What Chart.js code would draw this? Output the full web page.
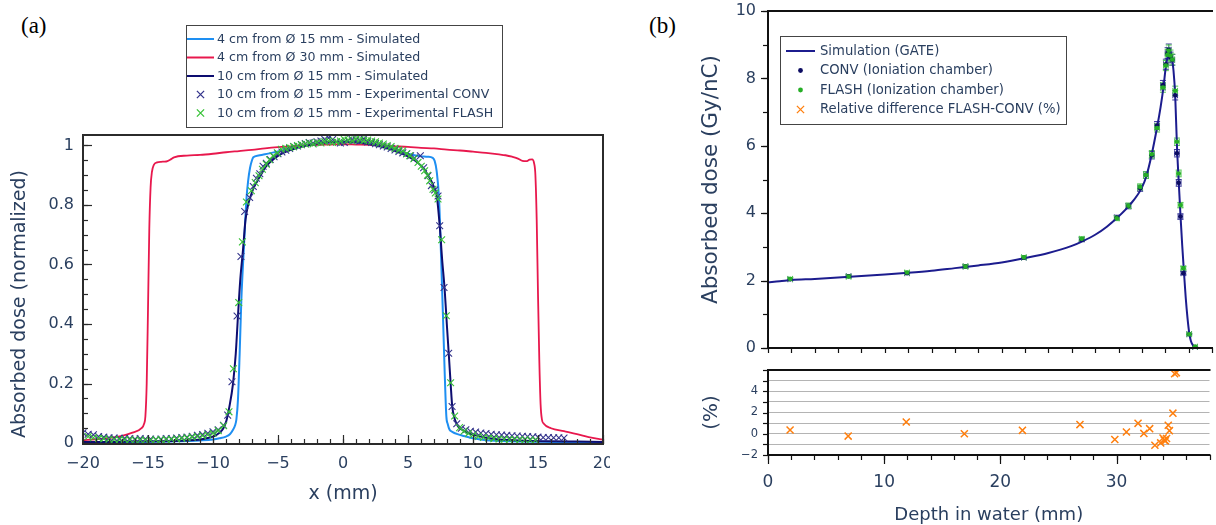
<!DOCTYPE html>
<html><head><meta charset="utf-8">
<script src="https://cdn.jsdelivr.net/npm/chart.js@4.4.1/dist/chart.umd.min.js"></script>
<style>
html,body{margin:0;padding:0;background:#fff;}
body{width:1216px;height:525px;position:relative;overflow:hidden;}
canvas{position:absolute;}
.lbl{position:absolute;font-family:"Liberation Serif","DejaVu Serif",serif;font-size:23px;color:#000;line-height:1;}
</style></head><body>
<div class="lbl" style="left:21px;top:14px">(a)</div>
<div class="lbl" style="left:649px;top:14px">(b)</div>
<canvas id="ca" width="610" height="525" style="left:0;top:0"></canvas>
<canvas id="cb1" width="576" height="360" style="left:640px;top:0"></canvas>
<canvas id="cb2" width="576" height="165" style="left:640px;top:360px"></canvas>
<script>
// ================= Panel (a) data =================
const seriesNamesA = ['4 cm from Ø 15 mm - Simulated','4 cm from Ø 30 mm - Simulated','10 cm from Ø 15 mm - Simulated','10 cm from Ø 15 mm - Experimental CONV','10 cm from Ø 15 mm - Experimental FLASH'];
const xTicksA = [-20,-15,-10,-5,0,5,10,15,20];
const xTickLabelsA = ['−20','−15','−10','−5','0','5','10','15','20'];
const yTicksA = [0,0.2,0.4,0.6,0.8,1];
const yTickLabelsA = ['0','0.2','0.4','0.6','0.8','1'];

const blueX = [-20,-16,-13,-11,-10,-9.5,-9.0,-8.7,-8.46,-8.3,-8.2,-8.08,-7.95,-7.82,-7.62,-7.43,-7.3,-7.15,-7.0,-6.9,-6.5,-6,-5.5,-5,-4,-3,-2,-1,0,1,2,3,4,5,5.5,6,6.5,6.9,7.05,7.2,7.39,7.55,7.69,7.82,7.95,8.05,8.2,8.4,8.8,9.2,10,11,13,16,20];
const blueY = [0.003,0.004,0.006,0.009,0.012,0.016,0.022,0.03,0.045,0.06,0.08,0.146,0.3,0.48,0.66,0.818,0.88,0.925,0.95,0.96,0.966,0.97,0.975,0.98,0.99,1.0,1.006,1.01,1.012,1.01,1.005,0.997,0.985,0.972,0.967,0.964,0.962,0.958,0.948,0.915,0.818,0.62,0.426,0.24,0.09,0.065,0.045,0.038,0.03,0.025,0.016,0.01,0.006,0.004,0.003];

const redX = [-20,-19,-18,-17,-16.2,-15.5,-15.3,-15.2,-15.1,-15.0,-14.9,-14.8,-14.7,-14.55,-14.3,-14.0,-13.6,-13.3,-13.0,-12,-11,-10,-9,-8,-7,-6,-5,-4,-3,-2,-1,0,1,2,3,4,5,6,7,8,9,10,11,12,12.5,13,13.5,13.8,14.1,14.35,14.55,14.7,14.8,14.9,15.0,15.1,15.2,15.3,15.45,16.0,17.0,18,18.9,20];
const redY = [0.01,0.013,0.017,0.024,0.035,0.05,0.065,0.09,0.2,0.45,0.72,0.86,0.91,0.935,0.943,0.945,0.946,0.952,0.96,0.966,0.968,0.972,0.977,0.981,0.985,0.99,0.994,0.997,1.0,1.002,1.003,1.004,1.003,1.002,0.999,0.997,0.995,0.992,0.99,0.986,0.983,0.979,0.975,0.97,0.967,0.962,0.955,0.948,0.947,0.952,0.953,0.94,0.9,0.75,0.5,0.28,0.13,0.08,0.065,0.05,0.04,0.03,0.02,0.012];

const navyX = [-20,-18,-16,-14,-12,-11,-10.5,-10,-9.5,-9.2,-8.97,-8.75,-8.46,-8.25,-8.08,-7.9,-7.69,-7.5,-7.3,-7.1,-6.9,-6.6,-6.3,-6,-5.5,-5,-4,-3,-2,-1,0,1,2,3,4,5,5.5,6,6.4,6.7,7.0,7.2,7.44,7.62,7.82,8.0,8.15,8.28,8.4,8.6,8.85,9.2,9.7,10.2,11,12,14,16,18,20];
const navyY = [0.004,0.004,0.005,0.006,0.009,0.012,0.016,0.022,0.035,0.05,0.075,0.12,0.2,0.3,0.426,0.55,0.65,0.75,0.8,0.83,0.855,0.88,0.902,0.925,0.948,0.965,0.985,0.998,1.006,1.011,1.012,1.011,1.005,0.995,0.982,0.963,0.95,0.932,0.91,0.888,0.86,0.835,0.73,0.62,0.516,0.39,0.29,0.2,0.124,0.08,0.056,0.044,0.033,0.026,0.018,0.012,0.008,0.006,0.005,0.004];

const convX = [-20.0,-19.6,-19.2,-18.8,-18.4,-18.0,-17.6,-17.2,-16.8,-16.4,-16.0,-15.6,-15.2,-14.8,-14.4,-14.0,-13.6,-13.2,-12.8,-12.4,-12.0,-11.6,-11.2,-10.8,-10.4,-10.0,-9.6,-9.2,-8.87,-8.54,-8.15,-7.85,-7.56,-7.18,-6.9,-6.66,-6.4,-6.15,-5.9,-5.6,-5.3,-5.0,-4.7,-4.4,-4.1,-3.8,-3.5,-3.2,-2.9,-2.6,-2.3,-2.0,-1.7,-1.4,-1.1,-0.8,-0.5,-0.2,0.1,0.4,0.7,1.0,1.3,1.6,1.9,2.2,2.5,2.8,3.1,3.4,3.7,4.0,4.3,4.6,4.9,5.2,5.5,5.95,6.2,6.54,6.8,7.05,7.31,7.44,7.77,8.13,8.39,8.75,9.1,9.45,9.8,10.2,10.6,11.0,11.4,11.8,12.2,12.6,13.0,13.4,13.8,14.2,14.6,15.0,15.4,15.8,16.2,16.6,17.0];
const convY = [0.035,0.03,0.028,0.022,0.02,0.018,0.017,0.016,0.016,0.015,0.014,0.015,0.014,0.014,0.013,0.014,0.015,0.015,0.017,0.019,0.02,0.023,0.026,0.029,0.033,0.038,0.045,0.06,0.094,0.206,0.427,0.627,0.778,0.825,0.862,0.89,0.905,0.93,0.94,0.953,0.962,0.972,0.978,0.984,0.99,0.996,0.998,1.003,1.006,1.01,1.008,1.012,1.015,1.02,1.025,1.02,1.012,1.008,1.01,1.016,1.02,1.018,1.015,1.022,1.012,1.01,1.006,1.002,0.998,0.995,0.99,0.985,0.98,0.975,0.972,0.965,0.958,0.965,0.925,0.898,0.865,0.85,0.83,0.73,0.523,0.302,0.123,0.065,0.05,0.045,0.04,0.037,0.034,0.032,0.03,0.028,0.027,0.026,0.025,0.024,0.023,0.022,0.021,0.02,0.019,0.019,0.018,0.018,0.017];

const flashX = [-19.6,-19.2,-18.8,-18.4,-18.0,-17.6,-17.2,-16.8,-16.4,-16.0,-15.6,-15.2,-14.8,-14.4,-14.0,-13.6,-13.2,-12.8,-12.4,-12.0,-11.6,-11.2,-10.8,-10.4,-10.0,-9.6,-9.18,-8.77,-8.43,-8.02,-7.74,-7.43,-7.05,-6.75,-6.46,-6.2,-5.9,-5.65,-5.38,-5.05,-4.74,-4.4,-4.1,-3.8,-3.5,-3.2,-2.9,-2.6,-2.3,-2.0,-1.7,-1.4,-1.1,-0.8,-0.5,-0.2,0.1,0.4,0.7,1.0,1.3,1.6,1.9,2.2,2.5,2.8,3.1,3.4,3.7,4.0,4.3,4.6,4.9,5.13,5.45,5.77,6.02,6.28,6.5,6.67,6.92,7.1,7.31,7.59,7.95,8.28,8.59,8.97,9.3,9.65,10.0,10.4,10.8,11.2,11.6,12.0,12.4,12.8,13.2,13.6,14.0,14.4,14.8];
const flashY = [0.022,0.018,0.016,0.015,0.013,0.012,0.012,0.011,0.011,0.01,0.01,0.01,0.01,0.011,0.011,0.012,0.013,0.014,0.016,0.018,0.02,0.022,0.025,0.028,0.033,0.042,0.058,0.105,0.25,0.472,0.676,0.81,0.848,0.875,0.898,0.92,0.937,0.952,0.965,0.975,0.987,0.99,0.993,0.996,1.0,1.002,1.005,1.008,1.005,1.01,1.008,1.012,1.015,1.01,1.012,1.015,1.02,1.018,1.015,1.022,1.02,1.016,1.018,1.015,1.012,1.008,1.005,1.0,0.996,0.99,0.985,0.982,0.972,0.965,0.955,0.943,0.93,0.915,0.9,0.881,0.853,0.84,0.82,0.683,0.428,0.203,0.091,0.052,0.04,0.032,0.027,0.022,0.019,0.017,0.015,0.014,0.013,0.012,0.012,0.011,0.011,0.01,0.01];

// ================= Panel (b) data =================
const seriesNamesB = ['Simulation (GATE)','CONV (Ioniation chamber)','FLASH (Ionization chamber)','Relative difference FLASH-CONV (%)'];
const xTicksB = [0,10,20,30];
const xTickLabelsB = ['0','10','20','30'];
const yTicksB1 = [0,2,4,6,8,10];
const yTickLabelsB1 = ['0','2','4','6','8','10'];
const yTicksB2 = [-2,-1,0,1,2,3,4,5,6];
const yTickLabelsB2 = ['−2','','0','','2','','4','',''];

const simDepth = [0,1,2,4,6,8,10,12,14,16,18,20,22,24,26,27,28,29,30,31,32,32.4,32.8,33.3,33.6,33.85,34.05,34.25,34.4,34.55,34.7,34.85,35.0,35.15,35.3,35.45,35.6,35.75,35.9,36.05,36.2,36.4,36.6,37,38];
const simDose = [1.95,1.98,2.02,2.05,2.09,2.14,2.18,2.23,2.29,2.37,2.45,2.54,2.67,2.82,3.03,3.18,3.36,3.6,3.9,4.26,4.76,5.12,5.68,6.55,7.15,7.75,8.35,8.72,8.82,8.65,8.25,7.5,6.0,4.95,3.95,3.05,2.25,1.5,0.9,0.45,0.2,0.07,0.02,0.0,0.0];

const ptDepth = [1.9,6.9,11.9,16.9,21.9,26.85,29.85,30.85,31.85,32.35,32.85,33.3,33.8,34.05,34.2,34.3,34.45,34.6,34.85,35.0,35.15,35.3,35.55,36.05,36.55];
const convDose = [2.04,2.13,2.22,2.42,2.68,3.22,3.87,4.21,4.74,5.13,5.72,6.6,7.8,8.42,8.75,8.85,8.62,8.55,7.5,5.78,4.9,3.9,2.22,0.41,0.03];
const flashDose = [2.05,2.12,2.24,2.42,2.69,3.24,3.85,4.22,4.78,5.13,5.75,6.53,7.73,8.38,8.70,8.82,8.68,8.56,7.63,6.12,5.18,4.24,2.37,0.41,0.04];
const convErr = [0.04,0.04,0.04,0.05,0.05,0.06,0.07,0.08,0.09,0.1,0.11,0.12,0.14,0.15,0.16,0.17,0.16,0.16,0.14,0.11,0.1,0.08,0.05,0.02,0.01];
const flashErr = [0.04,0.04,0.04,0.05,0.05,0.06,0.07,0.08,0.09,0.1,0.11,0.12,0.14,0.15,0.16,0.17,0.16,0.16,0.14,0.11,0.1,0.08,0.05,0.02,0.01];
const depthErr = [0.2,0.2,0.2,0.2,0.2,0.2,0.2,0.2,0.2,0.2,0.2,0.2,0.2,0.2,0.2,0.2,0.2,0.2,0.2,0.2,0.2,0.2,0.2,0.2,0.2];

const relDepth = [1.9,6.9,11.9,16.9,21.9,26.85,29.85,30.85,31.85,32.35,32.85,33.3,33.8,34.0,34.1,34.2,34.3,34.45,34.55,34.85,35.0,35.15];
const relDiff = [0.35,-0.22,1.11,0.0,0.32,0.86,-0.54,0.16,0.98,0.03,0.48,-1.08,-0.86,-0.4,-0.6,-0.67,-0.45,0.8,0.29,1.94,5.65,5.75];

// ================= styling =================
const FONT = '"DejaVu Sans", Verdana, sans-serif';
const TXT = '#2a3f5f';
Chart.defaults.font.family = FONT;
Chart.defaults.color = TXT;
const C = {blue:'#1e8ff2', red:'#e8184d', navy:'#0d0d70', conv:'#34348c', flash:'#36c236',
           sim:'#1c1c8e', convB:'#0c0c62', flashB:'#26ae26', convErrC:'#3a3a98', flashErrC:'#52c852', orange:'#ff7f0e'};
const pts = (xs, ys) => xs.map((x, i) => ({x, y: ys[i]}));

// ---------- plugins ----------
const axisFrame = {
  id: 'axisFrame',
  afterDraw(chart, args, o) {
    const {ctx, chartArea: ca} = chart;
    ctx.save();
    ctx.strokeStyle = o.color; ctx.lineWidth = o.tickWidth || 1;
    (o.ticks || []).forEach(t => {
      const s = chart.scales[t.axis];
      const horiz = s.isHorizontal();
      const draw = (v, len) => {
        const p = Math.round(s.getPixelForValue(v)) + 0.5;
        ctx.beginPath();
        if (horiz) { const y0 = ca.bottom; const d = t.dir === 'in' ? -len : len; ctx.moveTo(p, y0); ctx.lineTo(p, y0 + d); }
        else { const x0 = ca.left; const d = t.dir === 'in' ? len : -len; ctx.moveTo(x0, p); ctx.lineTo(x0 + d, p); }
        ctx.stroke();
      };
      if (t.minorStep) {
        for (let k = Math.ceil(s.min / t.minorStep - 1e-9); k * t.minorStep <= s.max + 1e-9; k++) draw(k * t.minorStep, t.minorLen);
      }
      (t.major || []).forEach(v => draw(v, t.majorLen));
    });
    ctx.lineWidth = o.lineWidth; ctx.strokeStyle = o.color;
    const L = ca.left, R = ca.right, T = ca.top, B = ca.bottom;
    ctx.beginPath();
    if (o.sides.includes('top')) { ctx.moveTo(L - 1, T); ctx.lineTo(R + 1, T); }
    if (o.sides.includes('bottom')) { ctx.moveTo(L - 1, B); ctx.lineTo(R + 1, B); }
    if (o.sides.includes('left')) { ctx.moveTo(L, T); ctx.lineTo(L, B); }
    if (o.sides.includes('right')) { ctx.moveTo(R, T); ctx.lineTo(R, B); }
    ctx.stroke();
    ctx.restore();
  }
};

const errorBars = {
  id: 'errorBars',
  beforeDatasetsDraw(chart) {
    const {ctx} = chart; const xs = chart.scales.x, ys = chart.scales.y;
    chart.data.datasets.forEach(ds => {
      if (!ds.errY) return;
      ctx.save(); ctx.strokeStyle = ds.errColor; ctx.lineWidth = 1;
      ds.data.forEach((p, j) => {
        const px = xs.getPixelForValue(p.x), py = ys.getPixelForValue(p.y);
        const y1 = ys.getPixelForValue(p.y - ds.errY[j]), y2 = ys.getPixelForValue(p.y + ds.errY[j]);
        const x1 = xs.getPixelForValue(p.x - ds.errX[j]), x2 = xs.getPixelForValue(p.x + ds.errX[j]);
        const cap = 3;
        ctx.beginPath();
        ctx.moveTo(px, y1); ctx.lineTo(px, y2);
        ctx.moveTo(px - cap, y1); ctx.lineTo(px + cap, y1);
        ctx.moveTo(px - cap, y2); ctx.lineTo(px + cap, y2);
        ctx.moveTo(x1, py); ctx.lineTo(x2, py);
        ctx.moveTo(x1, py - cap); ctx.lineTo(x1, py + cap);
        ctx.moveTo(x2, py - cap); ctx.lineTo(x2, py + cap);
        ctx.stroke();
      });
      ctx.restore();
    });
  }
};

const boxLegend = {
  id: 'boxLegend',
  afterDraw(chart, args, o) {
    if (!o.items) return;
    const {ctx} = chart;
    ctx.save();
    ctx.fillStyle = '#fff';
    ctx.fillRect(o.x, o.y, o.w, o.h);
    ctx.strokeStyle = '#444'; ctx.lineWidth = 1;
    ctx.strokeRect(o.x + 0.5, o.y + 0.5, o.w, o.h);
    ctx.font = o.fontSize + 'px ' + FONT;
    ctx.textBaseline = 'middle';
    o.items.forEach((it, i) => {
      const y = o.y + o.row0 + i * o.rowH;
      ctx.strokeStyle = it.color; ctx.fillStyle = it.color;
      if (it.type === 'line') {
        ctx.lineWidth = 2;
        ctx.beginPath(); ctx.moveTo(o.x + o.s0, y); ctx.lineTo(o.x + o.s1, y); ctx.stroke();
      } else if (it.type === 'x') {
        const cx = o.x + (o.s0 + o.s1) / 2, r = 3.6;
        ctx.lineWidth = 1.3;
        ctx.beginPath(); ctx.moveTo(cx - r, y - r); ctx.lineTo(cx + r, y + r); ctx.moveTo(cx + r, y - r); ctx.lineTo(cx - r, y + r); ctx.stroke();
      } else if (it.type === 'dot') {
        const cx = o.x + (o.s0 + o.s1) / 2;
        ctx.beginPath(); ctx.arc(cx, y, 2.4, 0, Math.PI * 2); ctx.fill();
      }
      ctx.fillStyle = TXT;
      ctx.fillText(it.label, o.x + o.tx, y + 0.5);
    });
    ctx.restore();
  }
};

const sideTitle = {
  id: 'sideTitle',
  afterDraw(chart, args, o) {
    if (!o.text) return;
    const {ctx} = chart;
    ctx.save();
    ctx.translate(o.x, o.y); ctx.rotate(-Math.PI / 2);
    ctx.font = o.fontSize + 'px ' + FONT; ctx.fillStyle = TXT;
    ctx.textAlign = 'center'; ctx.textBaseline = 'middle';
    ctx.fillText(o.text, 0, 0);
    ctx.restore();
  }
};

const fixAxis = (w, h) => s => {
  if (w !== null) s.width = w;
  if (h !== null) s.height = h;
  s.paddingLeft = 0; s.paddingRight = 0; s.paddingTop = 0; s.paddingBottom = 0;
};
const setTicks = vals => s => { s.ticks = vals.map(v => ({value: v})); };

const baseOpts = {responsive: false, animation: false, events: [], maintainAspectRatio: false};

// ================= Chart (a) =================
new Chart(document.getElementById('ca'), {
  type: 'scatter',
  data: {datasets: [
    {label: seriesNamesA[0], data: pts(blueX, blueY), showLine: true, borderColor: C.blue, borderWidth: 2, pointRadius: 0, cubicInterpolationMode: 'monotone', order: 4},
    {label: seriesNamesA[1], data: pts(redX, redY), showLine: true, borderColor: C.red, borderWidth: 1.8, pointRadius: 0, cubicInterpolationMode: 'monotone', order: 3},
    {label: seriesNamesA[2], data: pts(navyX, navyY), showLine: true, borderColor: C.navy, borderWidth: 2, pointRadius: 0, cubicInterpolationMode: 'monotone', order: 2},
    {label: seriesNamesA[3], data: pts(convX, convY), pointStyle: 'crossRot', pointRadius: 4.8, borderColor: C.conv, backgroundColor: C.conv, borderWidth: 1.1, order: 1},
    {label: seriesNamesA[4], data: pts(flashX, flashY), pointStyle: 'crossRot', pointRadius: 4.8, borderColor: C.flash, backgroundColor: C.flash, borderWidth: 1.1, order: 0}
  ]},
  options: Object.assign({}, baseOpts, {
    layout: {padding: {top: 135, right: 7, left: 0, bottom: 0}},
    plugins: {
      legend: {display: false}, tooltip: {enabled: false},
      axisFrame: {color: '#2b2b2b', lineWidth: 2, tickWidth: 1.2, sides: ['top','bottom','left','right'],
        ticks: [{axis: 'x', dir: 'in', major: xTicksA, majorLen: 9, minorStep: 1, minorLen: 5},
                {axis: 'y', dir: 'in', major: yTicksA, majorLen: 9, minorStep: 0.05, minorLen: 5}]},
      boxLegend: {x: 186, y: 25, w: 316, h: 102, row0: 14, rowH: 18.5, s0: 1, s1: 28, tx: 31, fontSize: 12.6,
        items: [{type: 'line', color: C.blue, label: seriesNamesA[0]}, {type: 'line', color: C.red, label: seriesNamesA[1]},
                {type: 'line', color: C.navy, label: seriesNamesA[2]}, {type: 'x', color: C.conv, label: seriesNamesA[3]},
                {type: 'x', color: C.flash, label: seriesNamesA[4]}]},
      sideTitle: {text: 'Absorbed dose (normalized)', x: 20, y: 304, fontSize: 19}
    },
    scales: {
      x: {type: 'linear', min: -20, max: 20, afterBuildTicks: setTicks(xTicksA),
          ticks: {callback: (v, i) => xTickLabelsA[i], font: {size: 16}, padding: 10, maxRotation: 0, autoSkip: false},
          grid: {display: false, drawTicks: false}, border: {display: false},
          title: {display: true, text: 'x (mm)', font: {size: 19}, padding: {top: 0, bottom: 20}},
          afterFit: fixAxis(null, 81)},
      y: {type: 'linear', min: -0.003, max: 1.035, afterBuildTicks: setTicks(yTicksA),
          ticks: {callback: (v, i) => yTickLabelsA[i], font: {size: 16}, padding: 9, autoSkip: false},
          grid: {display: false, drawTicks: false}, border: {display: false},
          afterFit: fixAxis(83, null)}
    }
  }),
  plugins: [axisFrame, boxLegend, sideTitle]
});

// ================= Chart (b) top =================
new Chart(document.getElementById('cb1'), {
  type: 'scatter',
  data: {datasets: [
    {label: seriesNamesB[0], data: pts(simDepth, simDose), showLine: true, borderColor: C.sim, borderWidth: 2, pointRadius: 0, cubicInterpolationMode: 'monotone', order: 2},
    {label: seriesNamesB[1], data: pts(ptDepth, convDose), pointRadius: 2.3, borderWidth: 0, backgroundColor: C.convB, order: 1,
     errY: convErr, errX: depthErr, errColor: C.convErrC},
    {label: seriesNamesB[2], data: pts(ptDepth, flashDose), pointRadius: 2.3, borderWidth: 0, backgroundColor: C.flashB, order: 0,
     errY: flashErr, errX: depthErr, errColor: C.flashErrC}
  ]},
  options: Object.assign({}, baseOpts, {
    layout: {padding: {top: 11, right: 0, left: 0, bottom: 0}},
    plugins: {
      legend: {display: false}, tooltip: {enabled: false},
      axisFrame: {color: '#111', lineWidth: 2, tickWidth: 1.2, sides: ['top','bottom','left'],
        ticks: [{axis: 'x', dir: 'out', major: [], minorStep: 2, minorLen: 5},
                {axis: 'y', dir: 'out', major: yTicksB1, majorLen: 7, minorStep: 1, minorLen: 5}]},
      boxLegend: {x: 140, y: 36, w: 286, h: 88, row0: 15, rowH: 19.5, s0: 6, s1: 35, tx: 40, fontSize: 13.2,
        items: [{type: 'line', color: C.sim, label: seriesNamesB[0]}, {type: 'dot', color: C.convB, label: seriesNamesB[1]},
                {type: 'dot', color: C.flashB, label: seriesNamesB[2]}, {type: 'x', color: C.orange, label: seriesNamesB[3]}]}
    },
    scales: {
      x: {type: 'linear', min: 0, max: 38, ticks: {display: false}, grid: {display: false, drawTicks: false}, border: {display: false},
          afterFit: fixAxis(null, 12)},
      y: {type: 'linear', min: 0, max: 10, afterBuildTicks: setTicks(yTicksB1),
          ticks: {callback: (v, i) => yTickLabelsB1[i], font: {size: 16}, padding: 12, autoSkip: false},
          grid: {display: false, drawTicks: false}, border: {display: false},
          title: {display: true, text: 'Absorbed dose (Gy/nC)', font: {size: 21.5}, padding: {top: 59, bottom: 0}},
          afterFit: fixAxis(128, null)}
    }
  }),
  plugins: [errorBars, axisFrame, boxLegend]
});

// ================= Chart (b) bottom =================
new Chart(document.getElementById('cb2'), {
  type: 'scatter',
  data: {datasets: [
    {label: seriesNamesB[3], data: pts(relDepth, relDiff), pointStyle: 'crossRot', pointRadius: 5, borderColor: C.orange, backgroundColor: C.orange, borderWidth: 1.5}
  ]},
  options: Object.assign({}, baseOpts, {
    layout: {padding: {top: 10, right: 0, left: 0, bottom: 0}},
    plugins: {
      legend: {display: false}, tooltip: {enabled: false},
      axisFrame: {color: '#111', lineWidth: 2, tickWidth: 1.2, sides: ['top','bottom','left'],
        ticks: [{axis: 'x', dir: 'out', major: xTicksB, majorLen: 9, minorStep: 2, minorLen: 5},
                {axis: 'y', dir: 'out', major: [], minorStep: 1, minorLen: 5}]}
    },
    scales: {
      x: {type: 'linear', min: 0, max: 38, afterBuildTicks: setTicks(xTicksB),
          ticks: {callback: (v, i) => xTickLabelsB[i], font: {size: 17}, padding: 17, maxRotation: 0, autoSkip: false},
          grid: {display: false, drawTicks: false}, border: {display: false},
          title: {display: true, text: 'Depth in water (mm)', font: {size: 18, lineHeight: 1}, padding: {top: 0, bottom: 1}},
          afterFit: fixAxis(null, 70)},
      y: {type: 'linear', min: -2, max: 6, afterBuildTicks: setTicks(yTicksB2),
          ticks: {callback: (v, i) => yTickLabelsB2[i], font: {size: 11.5}, padding: 10, autoSkip: false},
          grid: {display: true, drawTicks: false, color: '#b4b4b4', lineWidth: 1}, border: {display: false},
          title: {display: true, text: '(%)', font: {size: 20}, padding: {top: 60, bottom: 0}},
          afterFit: fixAxis(128, null)}
    }
  }),
  plugins: [axisFrame]
});
</script>
</body></html>
